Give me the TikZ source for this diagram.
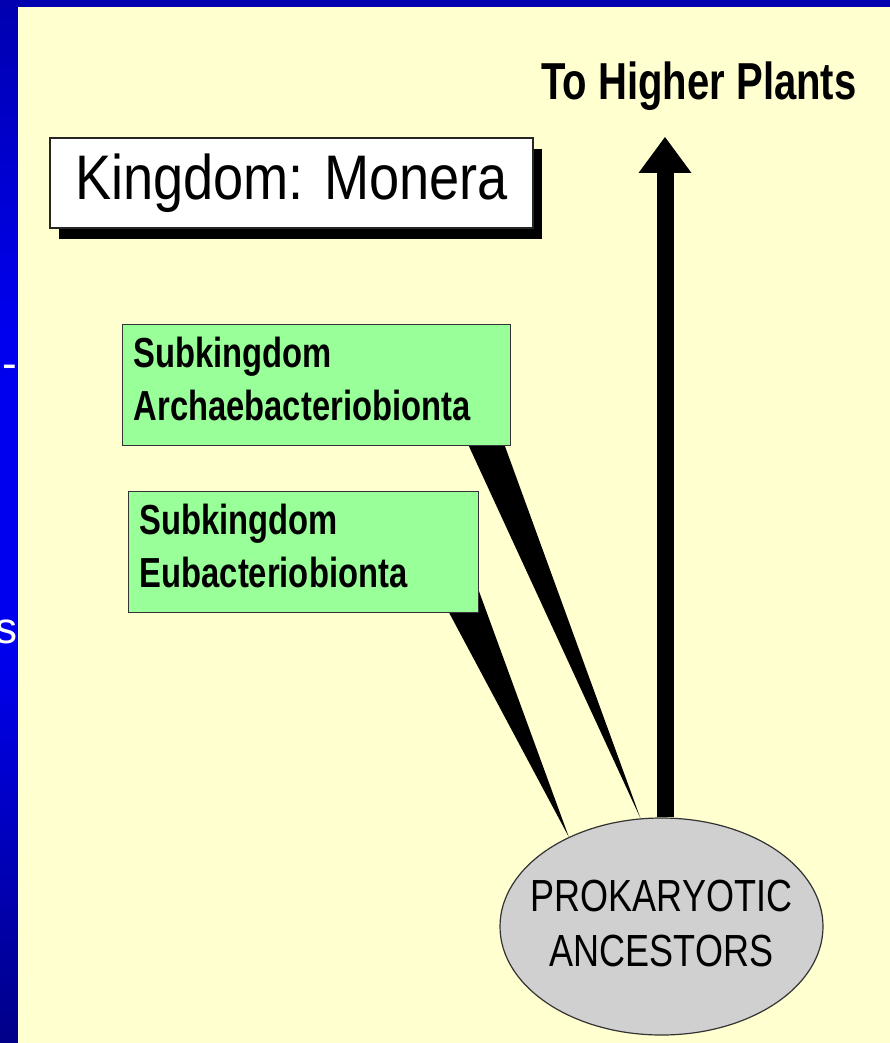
\documentclass[tikz,border=0pt]{standalone}
\usepackage{fontspec}
\setmainfont{Liberation Sans}
\newfontfamily\monerafont[FakeStretch=0.86]{Liberation Sans}
\newfontfamily\subfont[FakeStretch=0.78]{Liberation Sans}
\newfontfamily\plantfont[FakeStretch=0.77]{Liberation Sans}
\newfontfamily\rootfont[FakeStretch=0.8]{Liberation Sans}
\usetikzlibrary{arrows.meta, shapes, positioning, shadows}
\definecolor{slidetop}{HTML}{0000B0}
\definecolor{slidemid}{HTML}{0000EE}
\definecolor{slidebot}{HTML}{000088}
\definecolor{paper}{HTML}{FFFFD0}
\definecolor{subgreen}{HTML}{99FF99}
\definecolor{rootgray}{HTML}{D0D0D0}
\pgfdeclarelayer{back}
\pgfdeclarelayer{background}
\pgfsetlayers{back,background,main}
\tikzset{line join=miter}

\begin{document}
\begin{tikzpicture}[x=1pt,y=-1pt]
\tikzstyle{cuttext}=[text=white,inner sep=0pt,font=\fontsize{44}{50}\selectfont]
\tikzstyle{monerabox}=[draw=black!85,line width=1.4pt,fill=white,minimum width=483pt,minimum height=90pt,
  drop shadow={shadow xshift=9pt,shadow yshift=-11pt,fill=black,opacity=1},
  font=\monerafont\fontsize{63}{70}\selectfont]
\tikzstyle{subbox}=[draw=black!80,line width=1.4pt,fill=subgreen,anchor=north west,align=left,
  inner xsep=11pt,inner ysep=0pt,minimum height=121pt,text depth=65pt,
  font=\subfont\bfseries\fontsize{42}{53}\selectfont]
\tikzstyle{rootbox}=[ellipse,draw=black!80,line width=1.2pt,fill=rootgray,minimum width=323pt,
  minimum height=217pt,inner xsep=-20pt,inner ysep=0pt,align=center,text depth=6pt,
  font=\rootfont\fontsize{45}{55}\selectfont]
\tikzstyle{wedge}=[fill=black]

\useasboundingbox (0,0) rectangle (890,1043);
\begin{pgfonlayer}{back}
\shade[top color=slidetop,bottom color=slidemid] (0,0) rectangle (890,330);
\fill[slidemid] (0,330) rectangle (18,650);
\shade[top color=slidemid,bottom color=slidebot] (0,650) rectangle (18,1043);
\node[cuttext,anchor=base east] (c1) at (17,378) {-};
\node[cuttext,anchor=base east] (c2) at (18,643) {s};
\fill[paper] (18,7) rectangle (890,1043);
\end{pgfonlayer}

\node[monerabox] (M) at (291.5,183) {Kingdom: Monera};
\node[anchor=base,inner sep=0pt,font=\plantfont\bfseries\fontsize{52}{60}\selectfont] (T) at (699,100) {To Higher Plants};

\node[subbox,text width=366pt] (S1) at (122,324) {Subkingdom\\Archaebacteriobionta};
\node[subbox,text width=328pt] (S2) at (128,491) {Subkingdom\\Eubacteriobionta};

\node[rootbox] (R) at (661.5,926.5) {PROKARYOTIC\\ANCESTORS};

\coordinate (U) at ([shift={(-34,37)}]T.base);

\begin{pgfonlayer}{background}
\fill[wedge] (R.101) -- ([shift={(-47,-10)}]S1.south east) -- ([shift={(-10,-10)}]S1.south east) -- cycle;
\fill[wedge] (R.136) -- ([shift={(-47,-32)}]S2.south east) -- ([shift={(-4,-32)}]S2.south east) -- cycle;
\draw[line width=17pt,-{Triangle[length=36pt,width=53pt,line width=0pt 0]}] (U |- R.north) -- (U);
\end{pgfonlayer}
\end{tikzpicture}
\end{document}
